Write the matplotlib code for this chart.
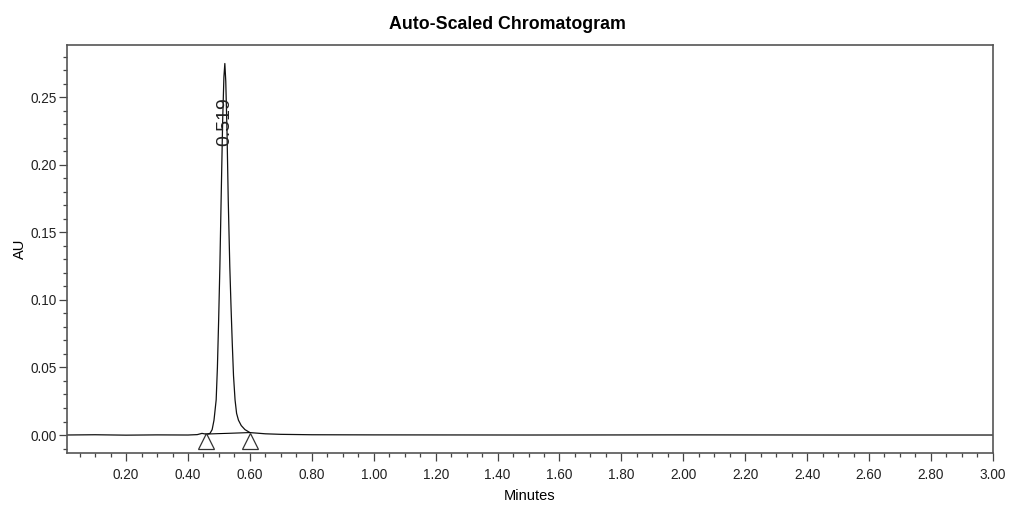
import matplotlib.pyplot as plt
from matplotlib.ticker import MultipleLocator, FormatStrFormatter

plt.rcParams['font.family'] = ['Liberation Sans', 'DejaVu Sans']

# Chromatogram trace (minutes, AU)
minutes = [0.00, 0.10, 0.20, 0.30, 0.40, 0.43, 0.445, 0.46, 0.471, 0.478, 0.484,
           0.491, 0.495, 0.499, 0.503, 0.507, 0.512, 0.516, 0.519, 0.522, 0.526, 0.530,
           0.535, 0.539, 0.543, 0.547, 0.552, 0.557, 0.563, 0.572, 0.584, 0.600, 0.650,
           0.700, 0.80, 1.00, 1.50, 2.00, 2.50, 3.00]
au = [0.0, 0.0002, -0.0001, 0.0001, 0.0, 0.0003, 0.0012, 0.0006, 0.0012, 0.004, 0.011,
      0.026, 0.050, 0.085, 0.125, 0.174, 0.233, 0.265, 0.275, 0.262, 0.225, 0.174,
      0.125, 0.095, 0.068, 0.044, 0.026, 0.016, 0.011, 0.007, 0.004, 0.0018, 0.0009,
      0.0005, 0.0002, 0.0001, 0.0, 0.0001, 0.0, 0.0]

peak_rt = 0.519
peak_label = "0.519"
peak_label_y = 0.232
# integration start/end (drop markers) and baseline
int_start = (0.4575, 0.0007)
int_end = (0.600, 0.0018)

fig = plt.figure(figsize=(10.1, 5.05), dpi=100)
ax = fig.add_axes([0.0663, 0.1030, 0.9167, 0.8079])

ax.plot(minutes, au, color='#111111', lw=0.9)
ax.plot([int_start[0], int_end[0]], [int_start[1], int_end[1]], color='black', lw=0.8)
ax.plot([int_start[0], int_end[0]], [-0.0045, -0.0045], linestyle='none', marker='^',
        markersize=11, markerfacecolor='white', markeredgecolor='#333333', markeredgewidth=0.9)

ax.text(peak_rt, peak_label_y, peak_label, rotation=90, ha='center', va='center',
        fontsize=14, color='#222222')

ax.set_xlim(0.009, 3.0)
ax.set_ylim(-0.0133, 0.2887)
ax.xaxis.set_major_locator(MultipleLocator(0.2))
ax.xaxis.set_minor_locator(MultipleLocator(0.05))
ax.yaxis.set_major_locator(MultipleLocator(0.05))
ax.yaxis.set_minor_locator(MultipleLocator(0.01))
ax.xaxis.set_major_formatter(FormatStrFormatter('%.2f'))
ax.yaxis.set_major_formatter(FormatStrFormatter('%.2f'))

ax.tick_params(which='major', length=6, width=0.9, color='#444444', labelsize=9.8,
               labelcolor='#222222', direction='out')
ax.tick_params(which='minor', length=3, width=0.9, color='#444444', direction='out')
ax.tick_params(axis='x', which='both', pad=5)
ax.tick_params(axis='y', which='both', pad=1.5)
for s in ax.spines.values():
    s.set_color('#555555')
    s.set_linewidth(1.2)

ax.set_xlabel('Minutes', fontsize=10.5, labelpad=4.5)
ax.set_ylabel('AU', fontsize=10.5, labelpad=2)
fig.text(0.502, 0.951, 'Auto-Scaled Chromatogram', ha='center', va='center',
         fontsize=12.8, fontweight='bold')

fig.savefig('out.png', dpi=100)
